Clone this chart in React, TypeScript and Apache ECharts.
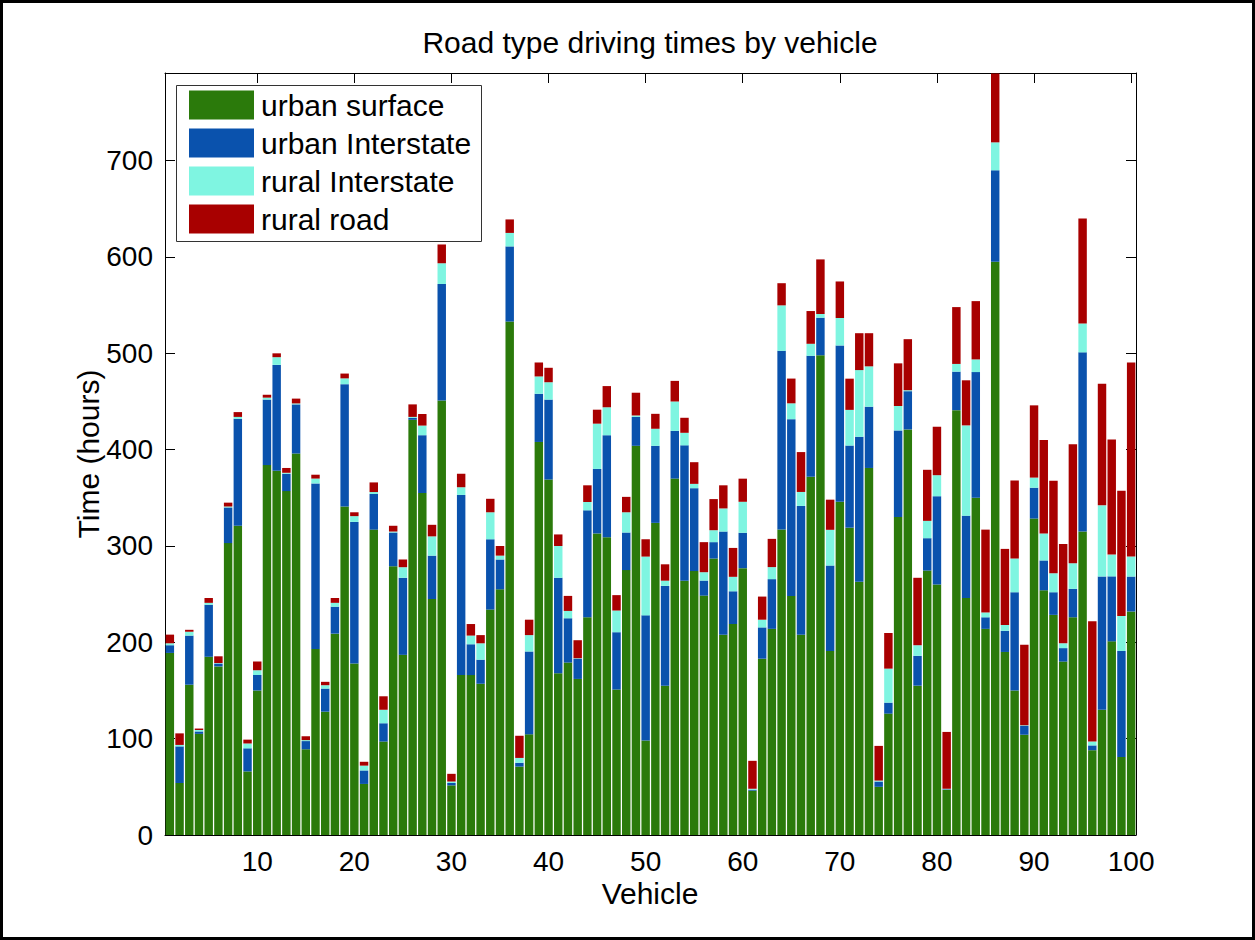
import React, { useEffect, useRef } from "react";
import * as echarts from "echarts";

const vehicles: string[] = Array.from({ length: 100 }, (_, i) => String(i + 1));

const urbanSurface = [
  189, 54, 156, 105, 185, 175, 303, 321, 66, 150,
  384, 378, 357, 396, 89, 193, 128, 209, 341, 178,
  53, 317, 97, 279, 187, 431, 355, 245, 451, 51.5,
  166, 166, 157, 234, 255, 533, 71, 104.5, 408, 369,
  168, 179, 162, 226, 313, 309, 151, 275, 404, 98,
  324, 155, 370, 264, 274, 248.5, 287, 208, 219, 277,
  46, 183, 214, 317, 248, 208, 372, 498, 191, 346,
  319, 263, 381, 50, 126, 330, 421, 155, 274.5, 260,
  47, 441, 246, 350, 214, 595, 190, 150, 104, 328.5,
  254, 228.5, 180, 226, 315, 88, 130, 201, 81, 232,
];

const urbanInterstate = [
  8, 38, 51, 2.5, 54, 3, 37, 111, 24, 16,
  68, 110, 18, 51, 8.5, 172, 24, 28, 127, 147,
  14, 37, 19, 35, 80, 2, 60, 45, 121, 2.5,
  187, 32, 25, 73, 31, 78, 4, 86, 50, 83,
  99, 46, 21, 111, 67, 106, 59.5, 39, 30, 130,
  80, 103.6, 49.5, 140.5, 86, 15.6, 17, 107, 34, 36.7,
  1, 32.5, 51.6, 185.6, 183.7, 133.6, 125.4, 39, 88.7, 162.2,
  85.3, 150.4, 63.6, 5.5, 11.4, 90, 39.7, 31, 33.6, 91.7,
  0.5, 40, 85.5, 130.5, 12, 95, 22, 102, 9.4, 32,
  31, 23.5, 14, 29.5, 186, 5, 138.4, 67.5, 110, 36.3,
];

const ruralInterstate = [
  2, 1.5, 4, 1.5, 2, 0.5, 1, 2, 5, 5,
  2, 8, 1, 1, 1, 5, 3.5, 4, 6, 6,
  5, 2, 14, 1, 11, 1, 10, 20, 21.5, 1.5,
  8, 9, 17, 28, 4, 14, 5, 17, 18, 18,
  33, 7.6, 0.5, 8.7, 47, 29, 22.5, 21, 1.5, 61,
  17.7, 5.4, 30.5, 13, 4.5, 8.7, 12.4, 24, 15, 32.2,
  1, 8, 12.5, 47.2, 16.4, 14.5, 12.5, 3.8, 37.1, 28.5,
  37, 69.2, 41.9, 1, 35.3, 25.3, 1, 11, 18, 21.8,
  0.5, 8, 93.7, 13.2, 5, 29, 6, 35, 0.5, 10.5,
  28, 19.7, 5, 26.6, 30, 4, 73.8, 22.6, 36.4, 20.8,
];

const ruralRoad = [
  9, 12, 2, 1.5, 5, 7, 4, 5, 4, 9,
  3, 4, 5, 5, 4, 4, 3.5, 5, 5, 4,
  4, 10, 14, 6, 8, 13, 12, 12, 19.5, 8,
  14, 12, 8.5, 14, 10, 14, 23, 16, 14.5, 15,
  12, 15.6, 18.7, 17.3, 14.5, 22, 16, 16, 23.6, 18,
  15.5, 17, 21.4, 15.6, 22.5, 31.2, 32.3, 24, 30, 24,
  29, 24, 29.3, 23, 25.7, 41.4, 34, 56.7, 31.3, 37.9,
  32.4, 38.3, 34.4, 36, 37, 44.3, 53, 70, 53, 50.3,
  59, 59, 46.8, 60.5, 86, 71.5, 79, 81, 83.5, 75,
  97, 96, 103, 123.6, 109, 125, 126.3, 119.4, 130, 201.5,
];

const seriesNames = ["urban surface", "urban Interstate", "rural Interstate", "rural road"];
const seriesColors = ["#2b7a0b", "#0a52ad", "#7ff5e1", "#a80000"];
const yTickValues = [0, 100, 200, 300, 400, 500, 600, 700];
const xTickLabels = ["10", "20", "30", "40", "50", "60", "70", "80", "90", "100"];
const yMax = 791;

const titleText = "Road type driving times by vehicle";
const xName = "Vehicle";
const yName = "Time (hours)";

export default function App() {
  const ref = useRef<HTMLDivElement>(null);

  useEffect(() => {
    if (!ref.current) return;
    const chart = echarts.init(ref.current, null, { renderer: "svg" });
    const font = "'Liberation Sans', Arial, Helvetica, sans-serif";
    const seriesData = [urbanSurface, urbanInterstate, ruralInterstate, ruralRoad];
    const plot = { left: 165, top: 73, width: 971, height: 762 };
    const showTick = (i: number, v: string) => xTickLabels.includes(v);

    const xCommon = {
      type: "category",
      data: vehicles,
      boundaryGap: true,
      axisLine: { show: true, onZero: false, lineStyle: { color: "#000", width: 1 } },
      axisTick: {
        show: true,
        inside: true,
        length: 10,
        alignWithLabel: true,
        interval: showTick,
        lineStyle: { color: "#000", width: 1 },
      },
      splitLine: { show: false },
    };
    const yCommon = {
      type: "value",
      min: 0,
      max: yMax,
      interval: 100,
      axisLine: { show: true, onZero: false, lineStyle: { color: "#000", width: 1 } },
      axisTick: { show: true, inside: true, length: 10, lineStyle: { color: "#000", width: 1 } },
      splitLine: { show: false },
    };

    chart.setOption({
      animation: false,
      backgroundColor: "#ffffff",
      textStyle: { fontFamily: font },
      grid: { left: plot.left, top: plot.top, width: plot.width, height: plot.height, containLabel: false },
      legend: {
        show: true,
        orient: "vertical",
        left: 189,
        top: 90,
        padding: 0,
        itemWidth: 65,
        itemHeight: 29,
        itemGap: 8,
        icon: "rect",
        selectedMode: false,
        z: 10,
        data: seriesNames,
        textStyle: { fontSize: 30, color: "#000", fontFamily: font, padding: [0, 0, 0, 2] },
      },
      xAxis: [
        {
          ...xCommon,
          position: "bottom",
          axisLabel: {
            show: true,
            interval: showTick,
            color: "#000",
            fontSize: 28,
            margin: 12,
            fontFamily: font,
          },
        },
        {
          ...xCommon,
          position: "top",
          axisLabel: { show: false },
        },
      ],
      yAxis: [
        {
          ...yCommon,
          position: "left",
          axisLabel: {
            show: true,
            color: "#000",
            fontSize: 28,
            margin: 12,
            fontFamily: font,
            formatter: (v: number) => (yTickValues.includes(v) ? String(v) : ""),
          },
        },
        {
          ...yCommon,
          position: "right",
          axisLabel: { show: false },
        },
      ],
      series: seriesNames.map((name, k) => ({
        name,
        type: "bar",
        stack: "total",
        xAxisIndex: 0,
        yAxisIndex: 0,
        data: seriesData[k],
        barCategoryGap: "13%",
        itemStyle: { color: seriesColors[k] },
        emphasis: { disabled: true },
      })),
      graphic: [
        {
          type: "rect",
          z: 5,
          shape: { x: 176.5, y: 85.5, width: 305, height: 156 },
          style: { fill: "#ffffff", stroke: "#333333", lineWidth: 1 },
        },
        {
          type: "rect",
          z: 20,
          shape: { x: 1.5, y: 1.5, width: 1252, height: 937 },
          style: { fill: "none", stroke: "#000000", lineWidth: 3 },
        },
        {
          type: "text",
          x: 650,
          y: 42,
          style: {
            text: titleText,
            fontSize: 30,
            fontFamily: font,
            fill: "#000",
            align: "center",
            verticalAlign: "middle",
            textAlign: "center",
            textVerticalAlign: "middle",
          },
        },
        {
          type: "text",
          x: 650,
          y: 893,
          style: {
            text: xName,
            fontSize: 30,
            fontFamily: font,
            fill: "#000",
            align: "center",
            verticalAlign: "middle",
            textAlign: "center",
            textVerticalAlign: "middle",
          },
        },
        {
          type: "text",
          x: 88,
          y: 454,
          rotation: Math.PI / 2,
          style: {
            text: yName,
            fontSize: 30,
            fontFamily: font,
            fill: "#000",
            align: "center",
            verticalAlign: "middle",
            textAlign: "center",
            textVerticalAlign: "middle",
          },
        },
      ],
    });

    return () => {
      chart.dispose();
    };
  }, []);

  return (
    <div
      ref={ref}
      style={{ position: "fixed", left: 0, top: 0, width: 1255, height: 940, background: "#ffffff" }}
    />
  );
}
